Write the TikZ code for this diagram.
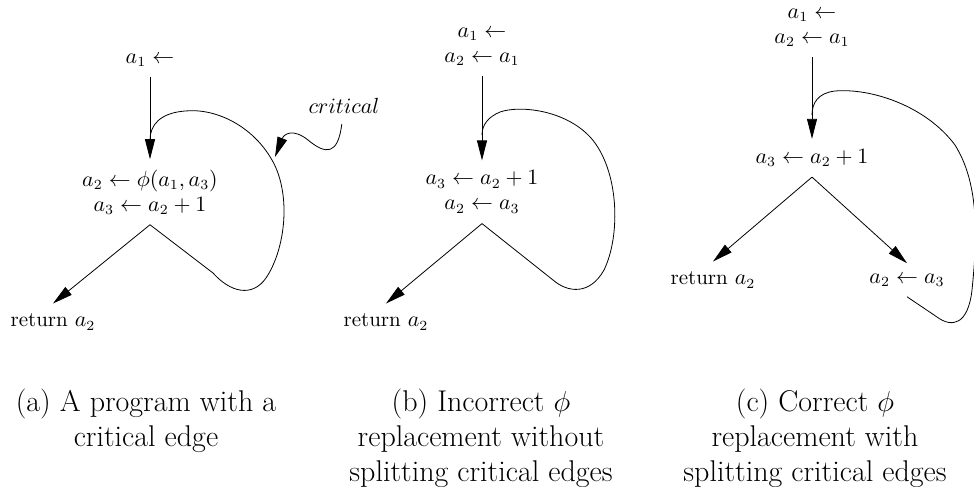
\documentclass[tikz,border=0pt]{standalone}
\usepackage{amsmath,amssymb}
\usepackage{tikz}
\usetikzlibrary{arrows.meta}

\begin{document}
\begin{tikzpicture}[x=0.5pt,y=-0.5pt, >={Triangle[length=10pt,width=5pt]},
  stm/.style={align=center,inner sep=5pt,font=\fontsize{10.5}{12.5}\selectfont},
  e/.style={->},
  captext/.style={align=center,inner sep=0pt,anchor=north,font=\fontsize{15}{17.5}\selectfont}]

\useasboundingbox (0,0) rectangle (974,487);

% (a) program with a critical edge
\node[stm] (a1) at (150,60) {$a_1 \leftarrow$};
\node[stm] (a2) at (150,192) {$a_2 \leftarrow \phi(a_1, a_3)$\\$a_3 \leftarrow a_2 + 1$};
\node[stm] (a3) at (53,322) {return $a_2$};
\node[stm] (crit) at (344,106) {$critical$};

\draw[e] (a1) -- (a2);
\draw[e] (a2.south) -- (a3.north);
\draw (a2.south) -- (213,273) .. controls (230,292) and (252,298) .. (266,278)
  .. controls (285,250) and (292,195) .. (272,160)
  .. controls (252,125) and (215,108) .. (185,111)
  .. controls (160,113) and (150,125) .. (150,140);
\draw[e] (crit) .. controls (338,155) and (326,155) .. (308,140)
  .. controls (293,128) and (284,134) .. (275,157);

% (b) incorrect
\node[stm] (b1) at (482,47) {$a_1 \leftarrow$\\$a_2 \leftarrow a_1$};
\node[stm] (b2) at (482,192) {$a_3 \leftarrow a_2 + 1$\\$a_2 \leftarrow a_3$};
\node[stm] (b3) at (386,322) {return $a_2$};

\draw[e] (b1) -- (b2);
\draw[e] (b2.south) -- (b3.north);
\draw (b2.south) -- (553,280) .. controls (568,293) and (590,295) .. (604,270)
  .. controls (621,235) and (619,170) .. (591,138)
  .. controls (566,110) and (520,105) .. (500,112)
  .. controls (488,117) and (482,125) .. (482,135);

% (c) correct
\node[stm] (c1) at (812,28) {$a_1 \leftarrow$\\$a_2 \leftarrow a_1$};
\node[stm] (c2) at (812,158) {$a_3 \leftarrow a_2 + 1$};
\node[stm] (c3) at (713,280) {return $a_2$};
\node[stm] (c4) at (907,280) {$a_2 \leftarrow a_3$};

\draw[e] (c1) -- (c2);
\draw[e] (c2.south) -- (c3.north);
\draw[e] (c2.south) -- (c4.north);
\draw (c4.south) -- (937,317) .. controls (952,328) and (968,325) .. (972,290)
  .. controls (977,240) and (980,185) .. (955,145)
  .. controls (925,105) and (870,88) .. (835,91)
  .. controls (818,93) and (812,103) .. (812,115);

% captions
\node[captext] (capa) at (146,389) {(a) A program with a\\critical edge};
\node[captext] (capb) at (481,389) {(b) Incorrect $\phi$\\replacement without\\splitting critical edges};
\node[captext] (capc) at (815,389) {(c) Correct $\phi$\\replacement with\\splitting critical edges};
\end{tikzpicture}
\end{document}
